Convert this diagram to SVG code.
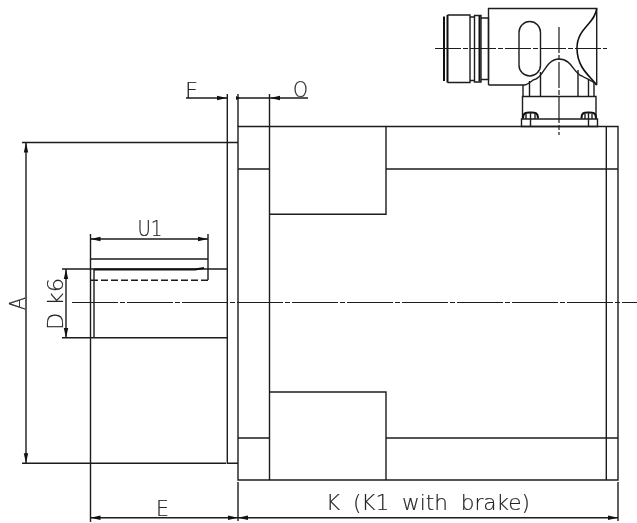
<svg xmlns="http://www.w3.org/2000/svg" width="637" height="523" viewBox="0 0 637 523">
<style>
.l{fill:none;stroke:#1c1c1c;stroke-width:1.4}
.b{fill:none;stroke:#111;stroke-width:2}
.c{fill:none;stroke:#1c1c1c;stroke-width:1.2;stroke-dasharray:46 2 5 2}
.d{fill:none;stroke:#1c1c1c;stroke-width:1.4;marker-start:url(#a);marker-end:url(#a)}
.e{fill:none;stroke:#1c1c1c;stroke-width:1.4;marker-end:url(#a)}
.t{opacity:.99}
text{font-family:"DejaVu Sans",sans-serif;font-size:22px;font-weight:200;fill:#222;stroke:#222;stroke-width:.2}
</style>
<defs><marker id="a" markerUnits="userSpaceOnUse" markerWidth="11" markerHeight="6" refX="10" refY="3" orient="auto-start-reverse"><path d="M0 0.8L10 3L0 5.2Z" fill="#111"/></marker></defs>
<rect width="637" height="523" fill="#fff"/>
<g id="body">
<path class="l" d="M238 126.5H618V480H238ZM269.5 94V480M238 169H269.500M238 438H269.500M386 169H618M386 438H618M606.300 126.500V480"/>
<path class="l" d="M269.500 214.300H386V126.500M269.500 392H386V480"/>
</g>
<g id="flange"><path class="l" d="M227.300 94V463.300H238M238 94V126.500M227.300 142.500H238"/></g>
<g id="shaft">
<path class="l" d="M90.500 234V522M62 337.700H227M62 269H227M94 269V338M90.500 259H208M208 234V280"/>
<path class="b" d="M94 269.400H195L204 268"/>
<path class="l" d="M91 280.300H208" stroke-dasharray="7 3"/>
<path class="c" d="M72 302.500H637"/>
</g>
<g id="connector">
<path class="l" d="M488.500 85V8.500H596.700V85M488.500 85H525"/>
<path class="b" style="stroke-width:1.6" d="M596.700 8.500C595 24 577 28 577 48C577 68 590 76 596.700 85"/>
<path class="l" d="M447.500 15H470V82.500H447.500M470 17H474.500V80.500H470M474.500 15.500H481V82H474.500ZM481 18H488.500V79.500H481"/>
<path class="b" d="M444 16.500V81M447.500 15V82.500M479.500 16V81.500"/>
<rect class="l" x="519" y="21.500" width="21.500" height="54.500" rx="10.700"/>
<path class="l" d="M525 85C531 83 531 80 536 79C544 76 546 59 559 59C572 59 574 74 582 76C587 79 593 81 596.700 85"/>
<path class="l" d="M523 85V96.500M529.500 81V96.500M540.500 72V96.500M578 70V96.500M588.500 80V96.500M594 82V96.500M522.500 96.500H596V119H522.500ZM521.500 119H597.500V126.500H521.500Z"/>
<path class="b" d="M523 118.500C523 112 527 112.500 530.500 112.500C534 112.500 538 112 538 118.500M581.500 118.500C581.500 112 585 112.500 588.500 112.500C592 112.500 596 112 596 118.500"/>
<path class="l" d="M530.500 112V126M588.500 112V126M526 114V119M535 114V119M585 114V119M592 114V119"/>
<path class="c" style="stroke-dasharray:26 2 5 2" d="M435 48.500H607M559 27V135"/>
</g>
<g id="dimensions">
<path class="l" d="M22 142.500H227M22 463.300H226M238 482V521M618 482V521M238 98H269.500"/>
<path class="d" d="M26 142.500V463.300"/>
<path class="d" d="M90.500 239H208"/>
<path class="d" d="M66 269V338"/>
<path class="d" d="M90.500 517.700H238"/>
<path class="d" d="M238 517.700H618"/>
<path class="e" d="M186 98H227"/>
<path class="e" d="M308 98H270"/>
<path d="M240 98L236 96V100Z" fill="#111"/>
<g class="t">
<text x="185" y="98" textLength="13" lengthAdjust="spacingAndGlyphs">F</text>
<text x="293" y="97" textLength="15" lengthAdjust="spacingAndGlyphs">O</text>
<text x="137.500" y="236" textLength="25" lengthAdjust="spacingAndGlyphs">U1</text>
<text x="156" y="516" textLength="13" lengthAdjust="spacingAndGlyphs">E</text>
<text x="326" y="510" textLength="204" lengthAdjust="spacingAndGlyphs" style="word-spacing:6px">K (K1 with brake)</text>
<text transform="translate(25 310) rotate(-90)" textLength="13" lengthAdjust="spacingAndGlyphs">A</text>
<text transform="translate(63 330) rotate(-90)" textLength="52" lengthAdjust="spacingAndGlyphs">D k6</text>
</g>
</g>
</svg>
